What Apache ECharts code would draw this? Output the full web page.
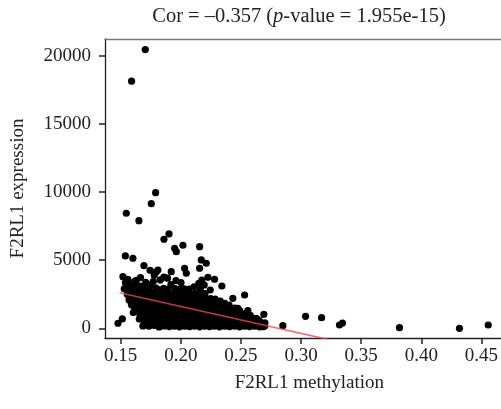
<!DOCTYPE html>
<html>
<head>
<meta charset="utf-8">
<script src="https://cdn.jsdelivr.net/npm/echarts@6/dist/echarts.min.js"></script>
<style>
html,body{margin:0;padding:0;background:#fff;}
#chart{width:501px;height:409px;}
</style>
</head>
<body>
<div id="chart"></div>
<script>
// ---- data ----
const xTicks = [0.15, 0.20, 0.25, 0.30, 0.35, 0.40, 0.45];
const yTicks = [0, 5000, 10000, 15000, 20000];

const outlierPoints = [
  [0.1705,20450],[0.1591,18130],[0.1791,9953],[0.1755,9146],[0.1547,8441],[0.1652,7898],
  [0.1902,6922],[0.1860,6533],[0.2018,6092],[0.1949,5872],[0.1963,5622],[0.2157,5989],
  [0.1539,5307],[0.1602,5138],[0.2171,5013],[0.2212,4771],[0.1694,4595],[0.2032,4404],
  [0.2046,4037],[0.1921,4154],[0.2157,4404],[0.1519,3787],[0.1810,4279],[0.2226,3743],
  [0.2281,3597],[0.2342,3105],[0.2433,2202],[0.2531,2444],[0.2475,1468],[0.2558,1292],
  [0.2691,1028],[0.2849,191],[0.1478,370],[0.1514,690],[0.1685,170],[0.3038,881],
  [0.3171,778],[0.3320,242],[0.3345,389],[0.3819,44],[0.4318,0],[0.4557,242],
  [0.2614,558],[0.2683,117],[0.2628,734],[0.2656,484],[0.1616,3420],[0.1797,4150]
];

const clusterPoints = [
  [0.153,2900],[0.154,3350],[0.1555,2500],[0.156,3600],[0.157,2080],[0.158,2780],[0.1575,3150],[0.159,1720],[0.1585,2400],
  [0.1605,1150],[0.1615,1480],[0.162,1850],[0.1612,2200],[0.1625,2560],[0.161,2900],[0.1622,3250],[0.163,3520],
  [0.1655,680],[0.166,1020],[0.165,1380],[0.1665,1720],[0.1652,2080],[0.1668,2420],[0.1658,2760],[0.1662,3100],[0.1665,3720],
  [0.1695,320],[0.170,650],[0.1705,990],[0.1692,1330],[0.171,1680],[0.1698,2030],[0.1702,2370],[0.1712,2700],[0.1695,3050],[0.1708,3380],
  [0.1735,150],[0.174,480],[0.1748,820],[0.1732,1160],[0.1745,1510],[0.1738,1860],[0.175,2200],[0.1742,2540],[0.1735,2880],[0.1748,3200],[0.1745,4250],
  [0.1778,210],[0.1785,540],[0.1775,890],[0.179,1240],[0.1782,1580],[0.1776,1920],[0.1788,2270],[0.178,2620],[0.1792,2960],[0.178,3900],[0.1772,3450],
  [0.182,100],[0.1828,430],[0.1815,780],[0.183,1130],[0.1822,1480],[0.1818,1830],[0.1832,2170],[0.1825,2500],[0.1815,2840],[0.183,3550],
  [0.1862,170],[0.1868,510],[0.1858,860],[0.1872,1200],[0.1865,1550],[0.186,1890],[0.1875,2240],[0.1866,2590],[0.1858,2930],[0.186,3760],
  [0.1905,120],[0.191,460],[0.19,800],[0.1915,1150],[0.1908,1490],[0.1898,1840],[0.1912,2180],[0.1904,2520],[0.1895,2850],[0.189,3680],[0.1918,3200],
  [0.1948,160],[0.1955,510],[0.1942,850],[0.1958,1200],[0.195,1540],[0.1945,1880],[0.1956,2230],[0.1948,2580],[0.1952,2920],[0.196,3500],
  [0.199,110],[0.1996,450],[0.1985,800],[0.2,1140],[0.1992,1490],[0.1986,1830],[0.1998,2170],[0.199,2510],[0.1995,2850],[0.2002,3350],
  [0.2032,150],[0.2038,490],[0.2026,840],[0.204,1180],[0.2034,1530],[0.2028,1870],[0.2042,2210],[0.2035,2550],[0.2028,2900],
  [0.2074,120],[0.208,460],[0.2068,810],[0.2082,1150],[0.2076,1500],[0.207,1840],[0.2084,2190],[0.2076,2530],[0.2068,2870],
  [0.2115,160],[0.2122,500],[0.211,850],[0.2125,1190],[0.2118,1540],[0.2112,1880],[0.2126,2230],[0.2118,2570],[0.211,3050],
  [0.2157,110],[0.2164,450],[0.2152,790],[0.2168,1140],[0.216,1480],[0.2154,1830],[0.2166,2170],[0.2158,2520],[0.215,3300],[0.2175,3540],[0.2162,2850],
  [0.2198,150],[0.2205,490],[0.2192,830],[0.2208,1180],[0.22,1520],[0.2194,1870],[0.2206,2200],[0.2195,3180],[0.2202,2550],
  [0.224,120],[0.2246,460],[0.2234,800],[0.2248,1150],[0.2242,1490],[0.2236,1820],[0.2248,2180],[0.2245,2810],
  [0.2281,160],[0.2288,500],[0.2276,840],[0.229,1190],[0.2284,1530],[0.2278,1860],[0.2286,2150],
  [0.2323,110],[0.233,450],[0.2318,790],[0.2332,1130],[0.2326,1470],[0.232,1800],[0.2328,2000],
  [0.2365,150],[0.2372,490],[0.236,830],[0.2374,1170],[0.2368,1500],[0.2365,1835],
  [0.2406,120],[0.2412,460],[0.24,800],[0.2414,1140],[0.2408,1450],[0.2402,1700],
  [0.2448,160],[0.2455,500],[0.2442,830],[0.2456,1150],[0.245,1480],
  [0.2489,110],[0.2496,440],[0.2484,770],[0.2498,1080],[0.249,1300],
  [0.2531,150],[0.2538,470],[0.2526,800],[0.254,1100],
  [0.2572,120],[0.258,430],[0.2566,740],[0.2578,950],
  [0.2614,160],[0.262,420],[0.2608,700],
  [0.2655,110],[0.2662,367],[0.265,600],
  [0.2697,150],[0.270,400]
];

// regression line end points
const fitX = [0.1492, 0.4557];
const fitY = [2613, -3456];

// ---- chart ----
const FONT = 'Liberation Serif';
const TXT = '#222';
const chart = echarts.init(document.getElementById('chart'), null, {renderer: 'canvas'});
chart.setOption({
  animation: false,
  backgroundColor: '#fff',
  title: {
    text: '{n|Cor = –0.357 (}{i|p}{n|-value = 1.955e-15)}',
    left: 294, top: 1, textAlign: 'center',
    textStyle: {
      fontWeight: 'normal',
      rich: {
        n: {fontFamily: FONT, fontSize: 20.5, color: TXT, fontWeight: 'normal'},
        i: {fontFamily: FONT, fontSize: 20.5, color: TXT, fontStyle: 'italic', fontWeight: 'normal'}
      }
    }
  },
  grid: {left: 105, right: 0, top: 39, bottom: 71, containLabel: false},
  xAxis: [{
    type: 'value', min: 0.137, max: 0.466,
    name: 'F2RL1 methylation', nameLocation: 'middle', nameGap: 36,
    nameTextStyle: {fontFamily: FONT, fontSize: 19, color: TXT, padding: [0, 0, 0, 13]},
    axisLine: {show: true, onZero: false, lineStyle: {color: '#222', width: 1.3}},
    axisTick: {show: true, length: 6, lineStyle: {color: '#222', width: 1.5}, customValues: xTicks},
    axisLabel: {fontFamily: FONT, fontSize: 19, color: TXT, margin: 9, customValues: xTicks,
      formatter: v => v.toFixed(2)},
    splitLine: {show: false}
  }, {
    type: 'value', position: 'top', min: 0.137, max: 0.466,
    axisLine: {show: true, onZero: false, lineStyle: {color: '#777', width: 1.3}},
    axisTick: {show: false}, axisLabel: {show: false}, splitLine: {show: false}
  }],
  yAxis: {
    type: 'value', min: -712, max: 21226,
    name: 'F2RL1 expression', nameLocation: 'middle', nameGap: 77, nameRotate: 90,
    nameTextStyle: {fontFamily: FONT, fontSize: 19, color: TXT},
    axisLine: {show: true, onZero: false, lineStyle: {color: '#222', width: 1.3}},
    axisTick: {show: true, length: 6, lineStyle: {color: '#222', width: 1.5}, customValues: yTicks},
    axisLabel: {fontFamily: FONT, fontSize: 19, color: TXT, margin: 14, customValues: yTicks,
      formatter: v => String(v)},
    splitLine: {show: false}
  },
  series: [{
    type: 'scatter', symbol: 'circle', symbolSize: 7.2,
    itemStyle: {color: '#000', opacity: 1},
    data: clusterPoints.concat(outlierPoints)
  }, {
    type: 'line', clip: true, symbol: 'none',
    lineStyle: {color: 'rgba(235,70,80,0.8)', width: 1.6},
    data: fitX.map((x, i) => [x, fitY[i]])
  }]
});
</script>
</body>
</html>
